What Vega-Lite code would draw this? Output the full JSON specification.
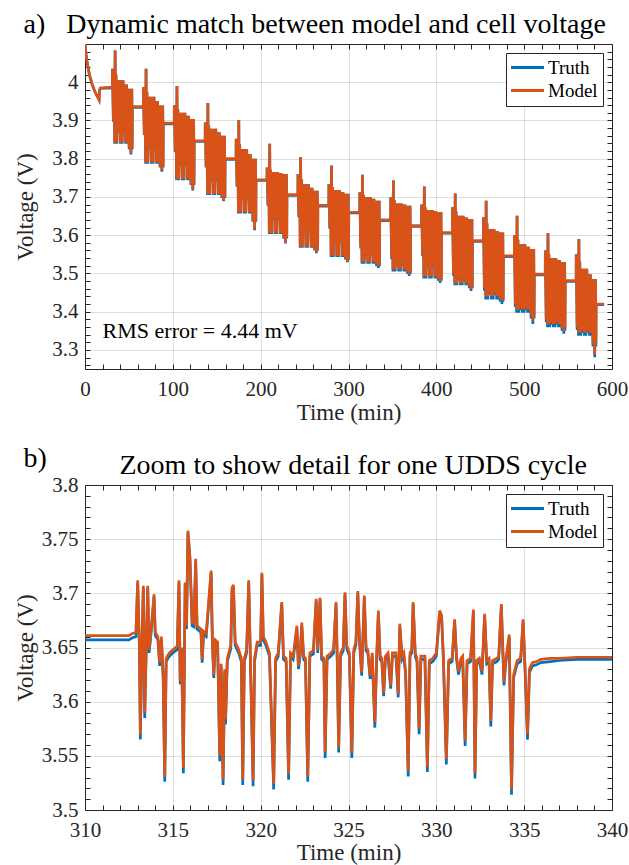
{
"$schema": "https://vega.github.io/schema/vega-lite/v6.json",
"padding": {"left": 13, "top": 9, "right": 0, "bottom": 0},
"spacing": 18,
"config": {
  "font": "Liberation Serif, Tinos, Times New Roman, Times, Nimbus Roman, DejaVu Serif, serif",
  "view": {"stroke": "#262626", "strokeWidth": 1},
  "axis": {"labelFont": "Liberation Serif, Tinos, Times New Roman, Times, Nimbus Roman, DejaVu Serif, serif", "labelFontSize": 21, "labelColor": "#262626", "titleFont": "Liberation Serif, Tinos, Times New Roman, Times, Nimbus Roman, DejaVu Serif, serif", "titleFontSize": 23, "titleFontWeight": "normal", "titleColor": "#262626", "tickColor": "#262626", "tickSize": -5, "tickWidth": 1, "domain": false, "gridColor": "#262626", "labelOverlap": false, "labelFlush": false, "labelBound": false},
  "legend": {"labelFont": "Liberation Serif, Tinos, Times New Roman, Times, Nimbus Roman, DejaVu Serif, serif"},
  "text": {"font": "Liberation Serif, Tinos, Times New Roman, Times, Nimbus Roman, DejaVu Serif, serif"}
},
"resolve": {"scale": {"color": "independent"}, "legend": {"color": "independent"}},
"datasets": {
"top": [
{"t":0,"m":4.1,"r":4.1},{"t":1,"m":4.075,"r":4.075},{"t":2.5,"m":4.05,"r":4.05},{"t":5,"m":4.02,"r":4.02},{"t":8,"m":3.995,"r":3.995},{"t":11,"m":3.977,"r":3.977},{"t":14,"m":3.963,"r":3.963},{"t":16,"m":3.954,"r":3.954},{"t":16.4,"m":3.978,"r":3.978},{"t":17.5,"m":3.985,"r":3.984},
{"t":31.2,"m":3.987,"r":3.985},{"t":31.3,"m":4.035,"r":4.035},{"t":32.3,"m":3.9,"r":3.897},{"t":33.3,"m":4.035,"r":4.035},{"t":33.8,"m":3.842,"r":3.839},{"t":34.3,"m":4.083,"r":4.083},{"t":34.8,"m":3.842,"r":3.839},{"t":35.3,"m":4.02,"r":4.02},{"t":36.3,"m":3.842,"r":3.839},{"t":37.3,"m":4.005,"r":4.005},{"t":38.3,"m":3.871,"r":3.868},{"t":39.3,"m":4.005,"r":4.005},{"t":40.3,"m":3.842,"r":3.839},{"t":41.3,"m":4.005,"r":4.005},{"t":42.3,"m":3.842,"r":3.839},{"t":43.3,"m":4.005,"r":4.005},{"t":44.3,"m":3.871,"r":3.868},{"t":45.3,"m":3.994,"r":3.994},{"t":46.3,"m":3.842,"r":3.839},{"t":47.3,"m":3.994,"r":3.994},{"t":48.3,"m":3.842,"r":3.839},{"t":49.3,"m":3.983,"r":3.983},{"t":50.3,"m":3.828,"r":3.825},{"t":51.3,"m":3.983,"r":3.983},{"t":52.3,"m":3.814,"r":3.811},{"t":53.3,"m":3.983,"r":3.983},{"t":53.7,"m":3.828,"r":3.825},{"t":53.9,"m":3.936,"r":3.934},
{"t":66.4,"m":3.936,"r":3.934},{"t":66.5,"m":3.987,"r":3.987},{"t":67.5,"m":3.865,"r":3.862},{"t":68.5,"m":3.987,"r":3.987},{"t":69,"m":3.79,"r":3.787},{"t":69.5,"m":4.035,"r":4.035},{"t":70,"m":3.79,"r":3.787},{"t":70.5,"m":3.975,"r":3.975},{"t":71.5,"m":3.79,"r":3.787},{"t":72.5,"m":3.962,"r":3.962},{"t":73.5,"m":3.828,"r":3.825},{"t":74.5,"m":3.962,"r":3.962},{"t":75.5,"m":3.79,"r":3.787},{"t":76.5,"m":3.962,"r":3.962},{"t":77.5,"m":3.79,"r":3.787},{"t":78.5,"m":3.962,"r":3.962},{"t":79.5,"m":3.828,"r":3.825},{"t":80.5,"m":3.951,"r":3.951},{"t":81.5,"m":3.79,"r":3.787},{"t":82.5,"m":3.951,"r":3.951},{"t":83.5,"m":3.79,"r":3.787},{"t":84.5,"m":3.939,"r":3.939},{"t":85.5,"m":3.78,"r":3.777},{"t":86.5,"m":3.939,"r":3.939},{"t":87.5,"m":3.769,"r":3.766},{"t":88.5,"m":3.939,"r":3.939},{"t":88.9,"m":3.78,"r":3.777},{"t":89.1,"m":3.893,"r":3.891},
{"t":101.6,"m":3.893,"r":3.891},{"t":101.7,"m":3.94,"r":3.94},{"t":102.7,"m":3.82,"r":3.817},{"t":103.7,"m":3.94,"r":3.94},{"t":104.2,"m":3.747,"r":3.744},{"t":104.7,"m":3.99,"r":3.99},{"t":105.2,"m":3.747,"r":3.744},{"t":105.7,"m":3.93,"r":3.93},{"t":106.7,"m":3.747,"r":3.744},{"t":107.7,"m":3.92,"r":3.92},{"t":108.7,"m":3.784,"r":3.781},{"t":109.7,"m":3.92,"r":3.92},{"t":110.7,"m":3.747,"r":3.744},{"t":111.7,"m":3.92,"r":3.92},{"t":112.7,"m":3.747,"r":3.744},{"t":113.7,"m":3.92,"r":3.92},{"t":114.7,"m":3.784,"r":3.781},{"t":115.7,"m":3.912,"r":3.912},{"t":116.7,"m":3.747,"r":3.744},{"t":117.7,"m":3.912,"r":3.912},{"t":118.7,"m":3.747,"r":3.744},{"t":119.7,"m":3.904,"r":3.904},{"t":120.7,"m":3.734,"r":3.731},{"t":121.7,"m":3.904,"r":3.904},{"t":122.7,"m":3.72,"r":3.717},{"t":123.7,"m":3.904,"r":3.904},{"t":124.1,"m":3.734,"r":3.731},{"t":124.3,"m":3.847,"r":3.845},
{"t":136.8,"m":3.847,"r":3.845},{"t":136.9,"m":3.895,"r":3.895},{"t":137.9,"m":3.78,"r":3.777},{"t":138.9,"m":3.895,"r":3.895},{"t":139.4,"m":3.708,"r":3.705},{"t":139.9,"m":3.946,"r":3.946},{"t":140.4,"m":3.708,"r":3.705},{"t":140.9,"m":3.887,"r":3.887},{"t":141.9,"m":3.708,"r":3.705},{"t":142.9,"m":3.878,"r":3.878},{"t":143.9,"m":3.744,"r":3.741},{"t":144.9,"m":3.878,"r":3.878},{"t":145.9,"m":3.708,"r":3.705},{"t":146.9,"m":3.878,"r":3.878},{"t":147.9,"m":3.708,"r":3.705},{"t":148.9,"m":3.878,"r":3.878},{"t":149.9,"m":3.744,"r":3.741},{"t":150.9,"m":3.869,"r":3.869},{"t":151.9,"m":3.708,"r":3.705},{"t":152.9,"m":3.869,"r":3.869},{"t":153.9,"m":3.708,"r":3.705},{"t":154.9,"m":3.86,"r":3.86},{"t":155.9,"m":3.7,"r":3.697},{"t":156.9,"m":3.86,"r":3.86},{"t":157.9,"m":3.692,"r":3.689},{"t":158.9,"m":3.86,"r":3.86},{"t":159.3,"m":3.7,"r":3.697},{"t":159.5,"m":3.8,"r":3.798},
{"t":172,"m":3.8,"r":3.798},{"t":172.1,"m":3.852,"r":3.852},{"t":173.1,"m":3.73,"r":3.727},{"t":174.1,"m":3.852,"r":3.852},{"t":174.6,"m":3.66,"r":3.657},{"t":175.1,"m":3.901,"r":3.901},{"t":175.6,"m":3.66,"r":3.657},{"t":176.1,"m":3.838,"r":3.838},{"t":177.1,"m":3.66,"r":3.657},{"t":178.1,"m":3.825,"r":3.825},{"t":179.1,"m":3.695,"r":3.692},{"t":180.1,"m":3.825,"r":3.825},{"t":181.1,"m":3.66,"r":3.657},{"t":182.1,"m":3.825,"r":3.825},{"t":183.1,"m":3.66,"r":3.657},{"t":184.1,"m":3.825,"r":3.825},{"t":185.1,"m":3.695,"r":3.692},{"t":186.1,"m":3.812,"r":3.812},{"t":187.1,"m":3.66,"r":3.657},{"t":188.1,"m":3.812,"r":3.812},{"t":189.1,"m":3.66,"r":3.657},{"t":190.1,"m":3.8,"r":3.8},{"t":191.1,"m":3.638,"r":3.635},{"t":192.1,"m":3.8,"r":3.8},{"t":193.1,"m":3.616,"r":3.613},{"t":194.1,"m":3.8,"r":3.8},{"t":194.5,"m":3.638,"r":3.635},{"t":194.7,"m":3.745,"r":3.743},
{"t":207.2,"m":3.745,"r":3.743},{"t":207.3,"m":3.777,"r":3.777},{"t":208.3,"m":3.68,"r":3.677},{"t":209.3,"m":3.777,"r":3.777},{"t":209.8,"m":3.606,"r":3.603},{"t":210.3,"m":3.839,"r":3.839},{"t":210.8,"m":3.606,"r":3.603},{"t":211.3,"m":3.771,"r":3.771},{"t":212.3,"m":3.606,"r":3.603},{"t":213.3,"m":3.765,"r":3.765},{"t":214.3,"m":3.643,"r":3.64},{"t":215.3,"m":3.765,"r":3.765},{"t":216.3,"m":3.606,"r":3.603},{"t":217.3,"m":3.765,"r":3.765},{"t":218.3,"m":3.606,"r":3.603},{"t":219.3,"m":3.765,"r":3.765},{"t":220.3,"m":3.643,"r":3.64},{"t":221.3,"m":3.762,"r":3.762},{"t":222.3,"m":3.606,"r":3.603},{"t":223.3,"m":3.762,"r":3.762},{"t":224.3,"m":3.606,"r":3.603},{"t":225.3,"m":3.76,"r":3.76},{"t":226.3,"m":3.594,"r":3.591},{"t":227.3,"m":3.76,"r":3.76},{"t":228.3,"m":3.581,"r":3.578},{"t":229.3,"m":3.76,"r":3.76},{"t":229.7,"m":3.594,"r":3.591},{"t":229.9,"m":3.706,"r":3.704},
{"t":242.4,"m":3.706,"r":3.704},{"t":242.5,"m":3.76,"r":3.76},{"t":243.5,"m":3.65,"r":3.647},{"t":244.5,"m":3.76,"r":3.76},{"t":245,"m":3.57,"r":3.567},{"t":245.5,"m":3.804,"r":3.804},{"t":246,"m":3.57,"r":3.567},{"t":246.5,"m":3.746,"r":3.746},{"t":247.5,"m":3.57,"r":3.567},{"t":248.5,"m":3.733,"r":3.733},{"t":249.5,"m":3.61,"r":3.607},{"t":250.5,"m":3.733,"r":3.733},{"t":251.5,"m":3.57,"r":3.567},{"t":252.5,"m":3.733,"r":3.733},{"t":253.5,"m":3.57,"r":3.567},{"t":254.5,"m":3.733,"r":3.733},{"t":255.5,"m":3.61,"r":3.607},{"t":256.5,"m":3.724,"r":3.724},{"t":257.5,"m":3.57,"r":3.567},{"t":258.5,"m":3.724,"r":3.724},{"t":259.5,"m":3.57,"r":3.567},{"t":260.5,"m":3.716,"r":3.716},{"t":261.5,"m":3.563,"r":3.56},{"t":262.5,"m":3.716,"r":3.716},{"t":263.5,"m":3.556,"r":3.553},{"t":264.5,"m":3.716,"r":3.716},{"t":264.9,"m":3.563,"r":3.56},{"t":265.1,"m":3.678,"r":3.676},
{"t":277.6,"m":3.678,"r":3.676},{"t":277.7,"m":3.734,"r":3.734},{"t":278.7,"m":3.62,"r":3.617},{"t":279.7,"m":3.734,"r":3.734},{"t":280.2,"m":3.546,"r":3.543},{"t":280.7,"m":3.782,"r":3.782},{"t":281.2,"m":3.546,"r":3.543},{"t":281.7,"m":3.726,"r":3.726},{"t":282.7,"m":3.546,"r":3.543},{"t":283.7,"m":3.718,"r":3.718},{"t":284.7,"m":3.583,"r":3.58},{"t":285.7,"m":3.718,"r":3.718},{"t":286.7,"m":3.546,"r":3.543},{"t":287.7,"m":3.718,"r":3.718},{"t":288.7,"m":3.546,"r":3.543},{"t":289.7,"m":3.718,"r":3.718},{"t":290.7,"m":3.583,"r":3.58},{"t":291.7,"m":3.713,"r":3.713},{"t":292.7,"m":3.546,"r":3.543},{"t":293.7,"m":3.713,"r":3.713},{"t":294.7,"m":3.546,"r":3.543},{"t":295.7,"m":3.708,"r":3.708},{"t":296.7,"m":3.539,"r":3.536},{"t":297.7,"m":3.708,"r":3.708},{"t":298.7,"m":3.532,"r":3.529},{"t":299.7,"m":3.708,"r":3.708},{"t":300.1,"m":3.539,"r":3.536},{"t":300.3,"m":3.66,"r":3.658},
{"t":312.8,"m":3.66,"r":3.658},{"t":312.9,"m":3.712,"r":3.712},{"t":313.9,"m":3.57,"r":3.565},{"t":314.9,"m":3.712,"r":3.712},{"t":315.4,"m":3.53,"r":3.525},{"t":315.9,"m":3.758,"r":3.758},{"t":316.4,"m":3.53,"r":3.525},{"t":316.9,"m":3.706,"r":3.706},{"t":317.9,"m":3.53,"r":3.525},{"t":318.9,"m":3.7,"r":3.7},{"t":319.9,"m":3.55,"r":3.545},{"t":320.9,"m":3.7,"r":3.7},{"t":321.9,"m":3.53,"r":3.525},{"t":322.9,"m":3.7,"r":3.7},{"t":323.9,"m":3.53,"r":3.525},{"t":324.9,"m":3.7,"r":3.7},{"t":325.9,"m":3.55,"r":3.545},{"t":326.9,"m":3.695,"r":3.695},{"t":327.9,"m":3.53,"r":3.525},{"t":328.9,"m":3.695,"r":3.695},{"t":329.9,"m":3.53,"r":3.525},{"t":330.9,"m":3.69,"r":3.69},{"t":331.9,"m":3.524,"r":3.519},{"t":332.9,"m":3.69,"r":3.69},{"t":333.9,"m":3.519,"r":3.514},{"t":334.9,"m":3.69,"r":3.69},{"t":335.3,"m":3.524,"r":3.519},{"t":335.5,"m":3.64,"r":3.638},
{"t":348,"m":3.64,"r":3.638},{"t":348.1,"m":3.699,"r":3.699},{"t":349.1,"m":3.542,"r":3.537},{"t":350.1,"m":3.699,"r":3.699},{"t":350.6,"m":3.51,"r":3.505},{"t":351.1,"m":3.743,"r":3.743},{"t":351.6,"m":3.51,"r":3.505},{"t":352.1,"m":3.691,"r":3.691},{"t":353.1,"m":3.51,"r":3.505},{"t":354.1,"m":3.683,"r":3.683},{"t":355.1,"m":3.526,"r":3.521},{"t":356.1,"m":3.683,"r":3.683},{"t":357.1,"m":3.51,"r":3.505},{"t":358.1,"m":3.683,"r":3.683},{"t":359.1,"m":3.51,"r":3.505},{"t":360.1,"m":3.683,"r":3.683},{"t":361.1,"m":3.526,"r":3.521},{"t":362.1,"m":3.68,"r":3.68},{"t":363.1,"m":3.51,"r":3.505},{"t":364.1,"m":3.68,"r":3.68},{"t":365.1,"m":3.51,"r":3.505},{"t":366.1,"m":3.677,"r":3.677},{"t":367.1,"m":3.504,"r":3.499},{"t":368.1,"m":3.677,"r":3.677},{"t":369.1,"m":3.498,"r":3.493},{"t":370.1,"m":3.677,"r":3.677},{"t":370.5,"m":3.504,"r":3.499},{"t":370.7,"m":3.625,"r":3.623},
{"t":383.2,"m":3.625,"r":3.623},{"t":383.3,"m":3.68,"r":3.68},{"t":384.3,"m":3.55,"r":3.545},{"t":385.3,"m":3.68,"r":3.68},{"t":385.8,"m":3.492,"r":3.487},{"t":386.3,"m":3.727,"r":3.727},{"t":386.8,"m":3.492,"r":3.487},{"t":387.3,"m":3.673,"r":3.673},{"t":388.3,"m":3.492,"r":3.487},{"t":389.3,"m":3.666,"r":3.666},{"t":390.3,"m":3.521,"r":3.516},{"t":391.3,"m":3.666,"r":3.666},{"t":392.3,"m":3.492,"r":3.487},{"t":393.3,"m":3.666,"r":3.666},{"t":394.3,"m":3.492,"r":3.487},{"t":395.3,"m":3.666,"r":3.666},{"t":396.3,"m":3.521,"r":3.516},{"t":397.3,"m":3.663,"r":3.663},{"t":398.3,"m":3.492,"r":3.487},{"t":399.3,"m":3.663,"r":3.663},{"t":400.3,"m":3.492,"r":3.487},{"t":401.3,"m":3.66,"r":3.66},{"t":402.3,"m":3.486,"r":3.481},{"t":403.3,"m":3.66,"r":3.66},{"t":404.3,"m":3.48,"r":3.475},{"t":405.3,"m":3.66,"r":3.66},{"t":405.7,"m":3.486,"r":3.481},{"t":405.9,"m":3.607,"r":3.605},
{"t":418.4,"m":3.607,"r":3.605},{"t":418.5,"m":3.673,"r":3.673},{"t":419.5,"m":3.498,"r":3.493},{"t":420.5,"m":3.673,"r":3.673},{"t":421,"m":3.474,"r":3.469},{"t":421.5,"m":3.709,"r":3.709},{"t":422,"m":3.474,"r":3.469},{"t":422.5,"m":3.662,"r":3.662},{"t":423.5,"m":3.474,"r":3.469},{"t":424.5,"m":3.651,"r":3.651},{"t":425.5,"m":3.486,"r":3.481},{"t":426.5,"m":3.651,"r":3.651},{"t":427.5,"m":3.474,"r":3.469},{"t":428.5,"m":3.651,"r":3.651},{"t":429.5,"m":3.474,"r":3.469},{"t":430.5,"m":3.651,"r":3.651},{"t":431.5,"m":3.486,"r":3.481},{"t":432.5,"m":3.646,"r":3.646},{"t":433.5,"m":3.474,"r":3.469},{"t":434.5,"m":3.646,"r":3.646},{"t":435.5,"m":3.474,"r":3.469},{"t":436.5,"m":3.642,"r":3.642},{"t":437.5,"m":3.466,"r":3.461},{"t":438.5,"m":3.642,"r":3.642},{"t":439.5,"m":3.459,"r":3.454},{"t":440.5,"m":3.642,"r":3.642},{"t":440.9,"m":3.466,"r":3.461},{"t":441.1,"m":3.586,"r":3.584},
{"t":453.6,"m":3.586,"r":3.584},{"t":453.7,"m":3.647,"r":3.647},{"t":454.7,"m":3.463,"r":3.455},{"t":455.7,"m":3.647,"r":3.647},{"t":456.2,"m":3.44,"r":3.432},{"t":456.7,"m":3.69,"r":3.69},{"t":457.2,"m":3.44,"r":3.432},{"t":457.7,"m":3.631,"r":3.631},{"t":458.7,"m":3.44,"r":3.432},{"t":459.7,"m":3.616,"r":3.616},{"t":460.7,"m":3.452,"r":3.444},{"t":461.7,"m":3.616,"r":3.616},{"t":462.7,"m":3.44,"r":3.432},{"t":463.7,"m":3.616,"r":3.616},{"t":464.7,"m":3.44,"r":3.432},{"t":465.7,"m":3.616,"r":3.616},{"t":466.7,"m":3.452,"r":3.444},{"t":467.7,"m":3.611,"r":3.611},{"t":468.7,"m":3.44,"r":3.432},{"t":469.7,"m":3.611,"r":3.611},{"t":470.7,"m":3.44,"r":3.432},{"t":471.7,"m":3.607,"r":3.607},{"t":472.7,"m":3.434,"r":3.426},{"t":473.7,"m":3.607,"r":3.607},{"t":474.7,"m":3.428,"r":3.42},{"t":475.7,"m":3.607,"r":3.607},{"t":476.1,"m":3.434,"r":3.426},{"t":476.3,"m":3.546,"r":3.544},
{"t":488.8,"m":3.546,"r":3.544},{"t":488.9,"m":3.6,"r":3.6},{"t":489.9,"m":3.42,"r":3.412},{"t":490.9,"m":3.6,"r":3.6},{"t":491.4,"m":3.405,"r":3.397},{"t":491.9,"m":3.651,"r":3.651},{"t":492.4,"m":3.405,"r":3.397},{"t":492.9,"m":3.588,"r":3.588},{"t":493.9,"m":3.405,"r":3.397},{"t":494.9,"m":3.576,"r":3.576},{"t":495.9,"m":3.412,"r":3.404},{"t":496.9,"m":3.576,"r":3.576},{"t":497.9,"m":3.405,"r":3.397},{"t":498.9,"m":3.576,"r":3.576},{"t":499.9,"m":3.405,"r":3.397},{"t":500.9,"m":3.576,"r":3.576},{"t":501.9,"m":3.412,"r":3.404},{"t":502.9,"m":3.57,"r":3.57},{"t":503.9,"m":3.405,"r":3.397},{"t":504.9,"m":3.57,"r":3.57},{"t":505.9,"m":3.405,"r":3.397},{"t":506.9,"m":3.564,"r":3.564},{"t":507.9,"m":3.39,"r":3.382},{"t":508.9,"m":3.564,"r":3.564},{"t":509.9,"m":3.376,"r":3.368},{"t":510.9,"m":3.564,"r":3.564},{"t":511.3,"m":3.39,"r":3.382},{"t":511.5,"m":3.498,"r":3.496},
{"t":524,"m":3.498,"r":3.496},{"t":524.1,"m":3.56,"r":3.56},{"t":525.1,"m":3.38,"r":3.372},{"t":526.1,"m":3.56,"r":3.56},{"t":526.6,"m":3.367,"r":3.359},{"t":527.1,"m":3.605,"r":3.605},{"t":527.6,"m":3.367,"r":3.359},{"t":528.1,"m":3.55,"r":3.55},{"t":529.1,"m":3.367,"r":3.359},{"t":530.1,"m":3.54,"r":3.54},{"t":531.1,"m":3.374,"r":3.366},{"t":532.1,"m":3.54,"r":3.54},{"t":533.1,"m":3.367,"r":3.359},{"t":534.1,"m":3.54,"r":3.54},{"t":535.1,"m":3.367,"r":3.359},{"t":536.1,"m":3.54,"r":3.54},{"t":537.1,"m":3.374,"r":3.366},{"t":538.1,"m":3.535,"r":3.535},{"t":539.1,"m":3.367,"r":3.359},{"t":540.1,"m":3.535,"r":3.535},{"t":541.1,"m":3.367,"r":3.359},{"t":542.1,"m":3.529,"r":3.529},{"t":543.1,"m":3.358,"r":3.35},{"t":544.1,"m":3.529,"r":3.529},{"t":545.1,"m":3.35,"r":3.342},{"t":546.1,"m":3.529,"r":3.529},{"t":546.5,"m":3.358,"r":3.35},{"t":546.7,"m":3.481,"r":3.479},
{"t":559.2,"m":3.481,"r":3.479},{"t":559.3,"m":3.55,"r":3.55},{"t":560.3,"m":3.36,"r":3.352},{"t":561.3,"m":3.55,"r":3.55},{"t":561.8,"m":3.345,"r":3.337},{"t":562.3,"m":3.59,"r":3.59},{"t":562.8,"m":3.345,"r":3.337},{"t":563.3,"m":3.531,"r":3.531},{"t":564.3,"m":3.345,"r":3.337},{"t":565.3,"m":3.512,"r":3.512},{"t":566.3,"m":3.352,"r":3.344},{"t":567.3,"m":3.512,"r":3.512},{"t":568.3,"m":3.345,"r":3.337},{"t":569.3,"m":3.512,"r":3.512},{"t":570.3,"m":3.345,"r":3.337},{"t":571.3,"m":3.512,"r":3.512},{"t":572.3,"m":3.352,"r":3.344},{"t":573.3,"m":3.498,"r":3.498},{"t":574.3,"m":3.345,"r":3.337},{"t":575.3,"m":3.498,"r":3.498},{"t":576.3,"m":3.345,"r":3.337},{"t":577.3,"m":3.485,"r":3.485},{"t":578.3,"m":3.317,"r":3.309},{"t":579.3,"m":3.485,"r":3.485},{"t":580.3,"m":3.289,"r":3.281},{"t":581.3,"m":3.485,"r":3.485},{"t":581.7,"m":3.317,"r":3.309},{"t":581.9,"m":3.42,"r":3.418},{"t":591,"m":3.42,"r":3.418}
],
"bot": [
{"t":310,"m":3.661,"r":3.657},{"t":312.5,"m":3.661,"r":3.657},{"t":312.7,"m":3.663,"r":3.659},{"t":312.9,"m":3.664,"r":3.66},{"t":313,"m":3.712,"r":3.71},{"t":313.1,"m":3.65,"r":3.647},{"t":313.15,"m":3.57,"r":3.565},{"t":313.25,"m":3.66,"r":3.657},{"t":313.32,"m":3.707,"r":3.705},{"t":313.4,"m":3.59,"r":3.585},{"t":313.5,"m":3.66,"r":3.657},{"t":313.57,"m":3.707,"r":3.705},{"t":313.65,"m":3.648,"r":3.645},{"t":313.75,"m":3.664,"r":3.661},{"t":313.93,"m":3.699,"r":3.697},{"t":314,"m":3.664,"r":3.661},{"t":314.15,"m":3.66,"r":3.657},{"t":314.25,"m":3.636,"r":3.633},{"t":314.35,"m":3.66,"r":3.657},{"t":314.45,"m":3.625,"r":3.622},{"t":314.54,"m":3.531,"r":3.526},{"t":314.62,"m":3.64,"r":3.637},{"t":314.8,"m":3.645,"r":3.642},{"t":315,"m":3.648,"r":3.645},{"t":315.25,"m":3.651,"r":3.648},{"t":315.35,"m":3.712,"r":3.71},{"t":315.42,"m":3.619,"r":3.616},{"t":315.5,"m":3.65,"r":3.647},{"t":315.6,"m":3.539,"r":3.534},{"t":315.7,"m":3.71,"r":3.708},{"t":315.78,"m":3.67,"r":3.667},{"t":315.86,"m":3.758,"r":3.756},{"t":315.97,"m":3.735,"r":3.733},{"t":316.1,"m":3.673,"r":3.67},{"t":316.2,"m":3.672,"r":3.669},{"t":316.3,"m":3.732,"r":3.73},{"t":316.38,"m":3.67,"r":3.667},{"t":316.6,"m":3.667,"r":3.664},{"t":316.67,"m":3.639,"r":3.636},{"t":316.75,"m":3.665,"r":3.662},{"t":316.9,"m":3.663,"r":3.66},{"t":317.18,"m":3.721,"r":3.719},{"t":317.25,"m":3.658,"r":3.655},{"t":317.33,"m":3.625,"r":3.622},{"t":317.42,"m":3.657,"r":3.654},{"t":317.55,"m":3.655,"r":3.652},{"t":317.67,"m":3.55,"r":3.545},{"t":317.75,"m":3.635,"r":3.632},{"t":317.86,"m":3.528,"r":3.523},{"t":317.95,"m":3.63,"r":3.627},{"t":318,"m":3.584,"r":3.579},{"t":318.1,"m":3.64,"r":3.637},{"t":318.3,"m":3.652,"r":3.649},{"t":318.37,"m":3.705,"r":3.703},{"t":318.45,"m":3.708,"r":3.706},{"t":318.55,"m":3.655,"r":3.652},{"t":318.75,"m":3.648,"r":3.645},{"t":318.9,"m":3.64,"r":3.637},{"t":318.98,"m":3.528,"r":3.523},{"t":319.07,"m":3.64,"r":3.637},{"t":319.2,"m":3.648,"r":3.645},{"t":319.32,"m":3.712,"r":3.71},{"t":319.43,"m":3.63,"r":3.627},{"t":319.57,"m":3.527,"r":3.522},{"t":319.65,"m":3.64,"r":3.637},{"t":319.8,"m":3.655,"r":3.652},{"t":320,"m":3.655,"r":3.652},{"t":320.07,"m":3.719,"r":3.717},{"t":320.15,"m":3.66,"r":3.657},{"t":320.3,"m":3.655,"r":3.652},{"t":320.5,"m":3.645,"r":3.642},{"t":320.74,"m":3.524,"r":3.519},{"t":320.85,"m":3.64,"r":3.637},{"t":321,"m":3.645,"r":3.642},{"t":321.2,"m":3.692,"r":3.69},{"t":321.3,"m":3.642,"r":3.639},{"t":321.45,"m":3.64,"r":3.637},{"t":321.59,"m":3.533,"r":3.528},{"t":321.7,"m":3.645,"r":3.642},{"t":321.85,"m":3.642,"r":3.639},{"t":322.06,"m":3.67,"r":3.667},{"t":322.15,"m":3.633,"r":3.63},{"t":322.25,"m":3.645,"r":3.642},{"t":322.34,"m":3.673,"r":3.67},{"t":322.45,"m":3.642,"r":3.639},{"t":322.55,"m":3.64,"r":3.637},{"t":322.68,"m":3.531,"r":3.526},{"t":322.8,"m":3.645,"r":3.642},{"t":323,"m":3.647,"r":3.644},{"t":323.16,"m":3.695,"r":3.693},{"t":323.25,"m":3.648,"r":3.645},{"t":323.38,"m":3.696,"r":3.694},{"t":323.47,"m":3.642,"r":3.639},{"t":323.6,"m":3.64,"r":3.637},{"t":323.67,"m":3.553,"r":3.548},{"t":323.78,"m":3.642,"r":3.639},{"t":324,"m":3.645,"r":3.642},{"t":324.15,"m":3.648,"r":3.645},{"t":324.29,"m":3.692,"r":3.69},{"t":324.36,"m":3.64,"r":3.637},{"t":324.44,"m":3.558,"r":3.553},{"t":324.55,"m":3.645,"r":3.642},{"t":324.7,"m":3.65,"r":3.647},{"t":324.8,"m":3.701,"r":3.699},{"t":324.9,"m":3.652,"r":3.649},{"t":325.05,"m":3.645,"r":3.642},{"t":325.19,"m":3.553,"r":3.548},{"t":325.3,"m":3.648,"r":3.645},{"t":325.42,"m":3.655,"r":3.652},{"t":325.53,"m":3.702,"r":3.7},{"t":325.62,"m":3.66,"r":3.657},{"t":325.75,"m":3.627,"r":3.624},{"t":325.9,"m":3.698,"r":3.696},{"t":326,"m":3.65,"r":3.647},{"t":326.1,"m":3.648,"r":3.645},{"t":326.23,"m":3.624,"r":3.621},{"t":326.35,"m":3.645,"r":3.642},{"t":326.5,"m":3.581,"r":3.576},{"t":326.6,"m":3.64,"r":3.637},{"t":326.7,"m":3.684,"r":3.682},{"t":326.8,"m":3.642,"r":3.639},{"t":326.9,"m":3.64,"r":3.637},{"t":327,"m":3.608,"r":3.605},{"t":327.1,"m":3.642,"r":3.639},{"t":327.25,"m":3.645,"r":3.642},{"t":327.4,"m":3.615,"r":3.612},{"t":327.5,"m":3.645,"r":3.642},{"t":327.7,"m":3.645,"r":3.642},{"t":327.83,"m":3.607,"r":3.604},{"t":327.92,"m":3.672,"r":3.669},{"t":328.05,"m":3.642,"r":3.639},{"t":328.15,"m":3.645,"r":3.642},{"t":328.25,"m":3.628,"r":3.625},{"t":328.4,"m":3.536,"r":3.531},{"t":328.5,"m":3.645,"r":3.642},{"t":328.6,"m":3.648,"r":3.645},{"t":328.68,"m":3.692,"r":3.69},{"t":328.8,"m":3.645,"r":3.642},{"t":328.9,"m":3.64,"r":3.637},{"t":329.02,"m":3.575,"r":3.57},{"t":329.12,"m":3.642,"r":3.639},{"t":329.35,"m":3.642,"r":3.639},{"t":329.49,"m":3.54,"r":3.535},{"t":329.6,"m":3.638,"r":3.635},{"t":329.8,"m":3.64,"r":3.637},{"t":330,"m":3.645,"r":3.642},{"t":330.19,"m":3.684,"r":3.682},{"t":330.3,"m":3.68,"r":3.678},{"t":330.4,"m":3.642,"r":3.639},{"t":330.57,"m":3.547,"r":3.542},{"t":330.7,"m":3.638,"r":3.635},{"t":330.9,"m":3.64,"r":3.637},{"t":331.04,"m":3.676,"r":3.674},{"t":331.15,"m":3.642,"r":3.639},{"t":331.26,"m":3.628,"r":3.625},{"t":331.4,"m":3.64,"r":3.637},{"t":331.5,"m":3.642,"r":3.639},{"t":331.64,"m":3.564,"r":3.559},{"t":331.75,"m":3.638,"r":3.635},{"t":331.95,"m":3.64,"r":3.637},{"t":332.11,"m":3.685,"r":3.683},{"t":332.2,"m":3.534,"r":3.529},{"t":332.3,"m":3.638,"r":3.635},{"t":332.45,"m":3.64,"r":3.637},{"t":332.6,"m":3.628,"r":3.625},{"t":332.75,"m":3.681,"r":3.679},{"t":332.87,"m":3.638,"r":3.635},{"t":333,"m":3.64,"r":3.637},{"t":333.1,"m":3.582,"r":3.577},{"t":333.2,"m":3.638,"r":3.635},{"t":333.45,"m":3.64,"r":3.637},{"t":333.55,"m":3.642,"r":3.639},{"t":333.7,"m":3.69,"r":3.688},{"t":333.85,"m":3.618,"r":3.615},{"t":333.95,"m":3.638,"r":3.635},{"t":334.15,"m":3.662,"r":3.659},{"t":334.28,"m":3.519,"r":3.514},{"t":334.4,"m":3.625,"r":3.622},{"t":334.6,"m":3.638,"r":3.635},{"t":334.8,"m":3.64,"r":3.637},{"t":334.94,"m":3.676,"r":3.674},{"t":335.05,"m":3.632,"r":3.629},{"t":335.19,"m":3.57,"r":3.565},{"t":335.3,"m":3.63,"r":3.627},{"t":335.47,"m":3.636,"r":3.633},{"t":335.7,"m":3.637,"r":3.634},{"t":335.94,"m":3.639,"r":3.636},{"t":336.5,"m":3.64,"r":3.637},{"t":337,"m":3.64,"r":3.638},{"t":338,"m":3.641,"r":3.639},{"t":339,"m":3.641,"r":3.639},{"t":340,"m":3.641,"r":3.639}
]
},
"vconcat": [
{
  "width": 527, "height": 325,
  "resolve": {"axis": {"x": "independent", "y": "independent"}},
  "layer": [
    {
      "data": {"name": "top"},
      "mark": {"type": "line", "strokeWidth": 2.7, "clip": true},
      "encoding": {
        "x": {"field": "t", "type": "quantitative", "scale": {"domain": [0, 600], "nice": false, "zero": false},
              "axis": {"orient": "bottom", "title": "Time (min)", "values": [0,20,40,60,80,100,120,140,160,180,200,220,240,260,280,300,320,340,360,380,400,420,440,460,480,500,520,540,560,580,600], "format": "d", "labelExpr": "datum.value % 100 === 0 ? datum.label : ''", "grid": true, "gridOpacity": {"condition": {"test": "datum.value % 100 === 0", "value": 0.15}, "value": 0}, "labelBaseline": "alphabetic", "labelPadding": 31, "titleBaseline": "alphabetic", "titleY": 50}},
        "y": {"field": "r", "type": "quantitative", "scale": {"domain": [3.25, 4.1], "nice": false, "zero": false},
              "axis": {"orient": "left", "title": "Voltage (V)", "values": [3.26,3.28,3.3,3.32,3.34,3.36,3.38,3.4,3.42,3.44,3.46,3.48,3.5,3.52,3.54,3.56,3.58,3.6,3.62,3.64,3.66,3.68,3.7,3.72,3.74,3.76,3.78,3.8,3.82,3.84,3.86,3.88,3.9,3.92,3.94,3.96,3.98,4,4.02,4.04,4.06,4.08], "format": "~g", "labelExpr": "abs(datum.value*10 - round(datum.value*10)) < 0.001 ? datum.label : ''", "grid": true, "gridOpacity": {"condition": {"test": "abs(datum.value*10 - round(datum.value*10)) < 0.001", "value": 0.15}, "value": 0}, "labelPadding": 12, "titleBaseline": "alphabetic", "titleX": -53}},
        "color": {"datum": "Truth", "type": "nominal", "scale": {"domain": ["Truth", "Model"], "range": ["#0072BD", "#D95319"]},
                  "legend": {"title": null, "orient": "top-right", "offset": 9, "padding": 5, "strokeColor": "#262626", "fillColor": "white", "labelFontSize": 19, "labelColor": "#000000", "symbolType": "M-3,0H3", "symbolSize": 121, "symbolStrokeWidth": 3, "symbolOffset": 7, "labelOffset": 11, "rowPadding": 3}}
      }
    },
    {
      "data": {"name": "top"},
      "mark": {"type": "line", "strokeWidth": 2.7, "clip": true},
      "encoding": {
        "x": {"field": "t", "type": "quantitative", "scale": {"domain": [0, 600], "nice": false, "zero": false},
              "axis": {"orient": "top", "title": "a)\u00a0\u00a0 Dynamic match between model and cell voltage", "titleFontSize": 28, "titleColor": "#000000", "titleAlign": "left", "titleAnchor": "start", "titleX": -62, "titleY": -12, "titleBaseline": "alphabetic", "labels": false, "grid": false, "values": [0,20,40,60,80,100,120,140,160,180,200,220,240,260,280,300,320,340,360,380,400,420,440,460,480,500,520,540,560,580,600]}},
        "y": {"field": "m", "type": "quantitative", "scale": {"domain": [3.25, 4.1], "nice": false, "zero": false},
              "axis": {"orient": "right", "title": null, "labels": false, "grid": false, "minExtent": 0, "values": [3.26,3.28,3.3,3.32,3.34,3.36,3.38,3.4,3.42,3.44,3.46,3.48,3.5,3.52,3.54,3.56,3.58,3.6,3.62,3.64,3.66,3.68,3.7,3.72,3.74,3.76,3.78,3.8,3.82,3.84,3.86,3.88,3.9,3.92,3.94,3.96,3.98,4,4.02,4.04,4.06,4.08]}},
        "color": {"datum": "Model", "type": "nominal", "scale": {"domain": ["Truth", "Model"], "range": ["#0072BD", "#D95319"]}}
      }
    },
    {
      "data": {"values": [{"t": 20, "v": 3.35, "label": "RMS error = 4.44 mV"}]},
      "mark": {"type": "text", "align": "left", "baseline": "middle", "fontSize": 22, "color": "#000000"},
      "encoding": {
        "x": {"field": "t", "type": "quantitative", "scale": {"domain": [0, 600], "nice": false, "zero": false}, "axis": null},
        "y": {"field": "v", "type": "quantitative", "scale": {"domain": [3.25, 4.1], "nice": false, "zero": false}, "axis": null},
        "text": {"field": "label"}
      }
    }
  ]
},
{
  "width": 527, "height": 325,
  "resolve": {"axis": {"x": "independent", "y": "independent"}},
  "layer": [
    {
      "data": {"name": "bot"},
      "mark": {"type": "line", "strokeWidth": 2.7, "clip": true},
      "encoding": {
        "x": {"field": "t", "type": "quantitative", "scale": {"domain": [310, 340], "nice": false, "zero": false},
              "axis": {"orient": "bottom", "title": "Time (min)", "values": [310,311,312,313,314,315,316,317,318,319,320,321,322,323,324,325,326,327,328,329,330,331,332,333,334,335,336,337,338,339,340], "format": "d", "labelExpr": "datum.value % 5 === 0 ? datum.label : ''", "grid": true, "gridOpacity": {"condition": {"test": "datum.value % 5 === 0", "value": 0.15}, "value": 0}, "labelBaseline": "alphabetic", "labelPadding": 31, "titleBaseline": "alphabetic", "titleY": 49}},
        "y": {"field": "r", "type": "quantitative", "scale": {"domain": [3.5, 3.8], "nice": false, "zero": false},
              "axis": {"orient": "left", "title": "Voltage (V)", "values": [3.5,3.51,3.52,3.53,3.54,3.55,3.56,3.57,3.58,3.59,3.6,3.61,3.62,3.63,3.64,3.65,3.66,3.67,3.68,3.69,3.7,3.71,3.72,3.73,3.74,3.75,3.76,3.77,3.78,3.79,3.8], "format": "~g", "labelExpr": "abs(datum.value*20 - round(datum.value*20)) < 0.001 ? datum.label : ''", "grid": true, "gridOpacity": {"condition": {"test": "abs(datum.value*20 - round(datum.value*20)) < 0.001", "value": 0.15}, "value": 0}, "labelPadding": 12, "titleBaseline": "alphabetic", "titleX": -53}},
        "color": {"datum": "Truth", "type": "nominal", "scale": {"domain": ["Truth", "Model"], "range": ["#0072BD", "#D95319"]},
                  "legend": {"title": null, "orient": "top-right", "offset": 9, "padding": 5, "strokeColor": "#262626", "fillColor": "white", "labelFontSize": 19, "labelColor": "#000000", "symbolType": "M-3,0H3", "symbolSize": 121, "symbolStrokeWidth": 3, "symbolOffset": 7, "labelOffset": 11, "rowPadding": 3}}
      }
    },
    {
      "data": {"name": "bot"},
      "mark": {"type": "line", "strokeWidth": 2.7, "clip": true},
      "encoding": {
        "x": {"field": "t", "type": "quantitative", "scale": {"domain": [310, 340], "nice": false, "zero": false},
              "axis": {"orient": "top", "title": "Zoom to show detail for one UDDS cycle", "titleFontSize": 28, "titleColor": "#000000", "titleAlign": "left", "titleAnchor": "start", "titleX": 34, "titleY": -12, "titleBaseline": "alphabetic", "labels": false, "grid": false, "values": [310,311,312,313,314,315,316,317,318,319,320,321,322,323,324,325,326,327,328,329,330,331,332,333,334,335,336,337,338,339,340]}},
        "y": {"field": "m", "type": "quantitative", "scale": {"domain": [3.5, 3.8], "nice": false, "zero": false},
              "axis": {"orient": "right", "title": "b)", "titleAngle": 0, "titleFontSize": 28, "titleColor": "#000000", "titleAlign": "left", "titleBaseline": "alphabetic", "titleX": -589, "titleY": -19, "labels": false, "grid": false, "minExtent": 0, "values": [3.5,3.51,3.52,3.53,3.54,3.55,3.56,3.57,3.58,3.59,3.6,3.61,3.62,3.63,3.64,3.65,3.66,3.67,3.68,3.69,3.7,3.71,3.72,3.73,3.74,3.75,3.76,3.77,3.78,3.79,3.8]}},
        "color": {"datum": "Model", "type": "nominal", "scale": {"domain": ["Truth", "Model"], "range": ["#0072BD", "#D95319"]}}
      }
    }
  ]
}
]
}
